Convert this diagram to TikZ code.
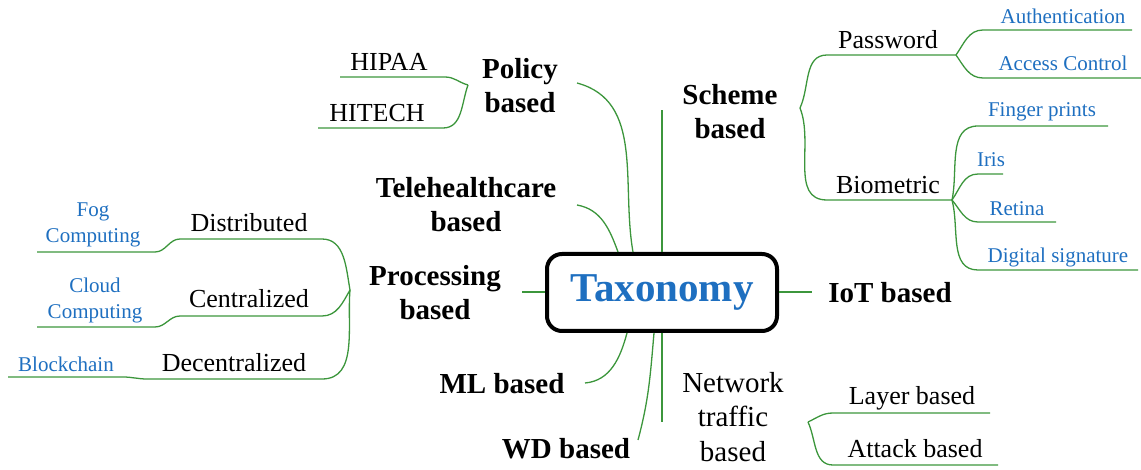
\documentclass[tikz,border=0pt]{standalone}
\usepackage{fontspec}
\setmainfont{Liberation Serif}
\definecolor{lgreen}{RGB}{60,150,60}
\definecolor{tblue}{RGB}{30,111,192}
\tikzset{
  mainlbl/.style={font=\fontsize{29}{34}\selectfont\bfseries, align=center, inner sep=0pt},
  sublbl/.style={font=\fontsize{26}{31}\selectfont, align=center, inner sep=0pt},
  leaflbl/.style={font=\fontsize{21}{26}\selectfont, text=tblue, align=center, inner sep=0pt},
  link/.style={draw=lgreen, line width=1.3pt},
}
\begin{document}
\begin{tikzpicture}[x=1pt,y=-1pt]
\useasboundingbox (0,0) rectangle (1141,470);
% centre
\node[draw=black, line width=4pt, rounded corners=15pt, minimum width=230pt, minimum height=77pt,
      font=\fontsize{41}{46}\selectfont\bfseries, text=tblue] (tax) at (662,292.5) {Taxonomy};
% main labels
\node[mainlbl] (scheme) at (730,112) {Scheme\\based};
\node[mainlbl] (iot) at (890,293) {IoT based};
\node[font=\fontsize{29}{34.5}\selectfont, align=center, inner sep=0pt] (net) at (733,417) {Network\\traffic\\based};
\node[mainlbl] (wd) at (566,449) {WD based};
\node[mainlbl] (ml) at (502,384) {ML based};
\node[mainlbl] (proc) at (435,293) {Processing\\based};
\node[mainlbl] (tele) at (466,205) {Telehealthcare\\based};
\node[mainlbl] (pol) at (520,86) {Policy\\based};
% sub labels
\node[sublbl] (pw) at (888,40) {Password};
\node[sublbl] (bio) at (888,185) {Biometric};
\node[sublbl] (layer) at (912,398) {Layer based};
\node[sublbl] (attack) at (915,449) {Attack based};
\node[sublbl] (hipaa) at (389,62) {HIPAA};
\node[sublbl] (hitech) at (377,113) {HITECH};
\node[sublbl] (dist) at (249,223) {Distributed};
\node[sublbl] (cent) at (249,299) {Centralized};
\node[sublbl] (decent) at (234,363) {Decentralized};
% leaves
\node[leaflbl] (auth) at (1063,16) {Authentication};
\node[leaflbl] (acc) at (1063,63) {Access Control};
\node[leaflbl] (finger) at (1042,112) {Finger prints};
\node[leaflbl] (iris) at (991,160) {Iris};
\node[leaflbl] (retina) at (1017,209) {Retina};
\node[leaflbl] (digsig) at (1058,257) {Digital signature};
\node[leaflbl] (fog) at (93,225) {Fog\\Computing};
\node[leaflbl] (cloud) at (95,300) {Cloud\\Computing};
\node[leaflbl] (block) at (66,364) {Blockchain};
% coordinates
\coordinate (tT1) at (618,252);
\coordinate (tT2) at (633,252);
\coordinate (tTop) at (662,252);
\coordinate (tBot) at (662,333);
\coordinate (tB1) at (627,333);
\coordinate (tB2) at (654,333);
\coordinate (tL) at (545,292);
\coordinate (tR) at (779,292);
\coordinate (schemeE) at (662,110);
\coordinate (iotE) at (812,292);
\coordinate (netE) at (662,422);
\coordinate (wdE) at (638,440);
\coordinate (mlE) at (585,383);
\coordinate (procE) at (522,292);
\coordinate (teleE) at (577,205);
\coordinate (polE) at (577,83);
% scheme subtree
\coordinate (sTip) at (800,108);
\coordinate (pwA) at (827,55);
\coordinate (pwB) at (956,55);
\coordinate (bioA) at (827,200);
\coordinate (bioB) at (952,200);
\coordinate (authA) at (983,30);  \coordinate (authB) at (1132,30);
\coordinate (accA) at (983,78);   \coordinate (accB) at (1141,78);
\coordinate (finA) at (978,126);  \coordinate (finB) at (1108,126);
\coordinate (irisA) at (978,174); \coordinate (irisB) at (1003,174);
\coordinate (retA) at (978,222);  \coordinate (retB) at (1056,222);
\coordinate (digA) at (978,270);  \coordinate (digB) at (1138,270);
% network subtree
\coordinate (nTip) at (808,422);
\coordinate (layA) at (833,413); \coordinate (layB) at (990,413);
\coordinate (attA) at (833,465); \coordinate (attB) at (998,465);
% policy subtree
\coordinate (pTip) at (468,85);
\coordinate (hipA) at (340,77); \coordinate (hipB) at (445,77);
\coordinate (hitA) at (318,128); \coordinate (hitB) at (443,128);
% processing subtree
\coordinate (prTip) at (350,290);
\coordinate (distB) at (322,239); \coordinate (distA) at (180,239);
\coordinate (fogB) at (155,252); \coordinate (fogA) at (37,252);
\coordinate (centB) at (322,316); \coordinate (centA) at (180,316);
\coordinate (cloudB) at (155,327); \coordinate (cloudA) at (37,327);
\coordinate (decB) at (322,379); \coordinate (decA) at (147,379);
\coordinate (blkB) at (123,377); \coordinate (blkA) at (8,377);
% main connectors
\draw[link] (tTop) -- (schemeE);
\draw[link] (tR) -- (iotE);
\draw[link] (tBot) -- (netE);
\draw[link] (tL) -- (procE);
\draw[link] (tB2) to[out=-95,in=75] (wdE);
\draw[link] (tB1) to[out=-105,in=5] (mlE);
\draw[link] (tT1) to[out=110,in=-10] (teleE);
\draw[link] (tT2) to[out=100,in=-15] (polE);
% scheme branches
\draw[link] (sTip) to[out=65,in=180] (pwA) -- (pwB);
\draw[link] (sTip) to[out=-68,in=180] (bioA) -- (bioB);
\draw[link] (pwB) to[out=55,in=180] (authA) -- (authB);
\draw[link] (pwB) to[out=-55,in=180] (accA) -- (accB);
\draw[link] (bioB) to[out=78,in=180] (finA) -- (finB);
\draw[link] (bioB) to[out=55,in=180] (irisA) -- (irisB);
\draw[link] (bioB) to[out=-50,in=180] (retA) -- (retB);
\draw[link] (bioB) to[out=-75,in=180] (digA) -- (digB);
% network branches
\draw[link] (nTip) to[out=25,in=180] (layA) -- (layB);
\draw[link] (nTip) to[out=-65,in=180] (attA) -- (attB);
% policy branches
\draw[link] (pTip) to[out=165,in=0] (hipB) -- (hipA);
\draw[link] (pTip) to[out=-110,in=0] (hitB) -- (hitA);
% processing branches
\draw[link] (prTip) to[out=100,in=0] (distB) -- (distA) to[out=180,in=0] (fogB) -- (fogA);
\draw[link] (prTip) to[out=-120,in=0] (centB) -- (centA) to[out=180,in=0] (cloudB) -- (cloudA);
\draw[link] (prTip) to[out=-95,in=0] (decB) -- (decA) to[out=180,in=0] (blkB) -- (blkA);
\end{tikzpicture}
\end{document}
